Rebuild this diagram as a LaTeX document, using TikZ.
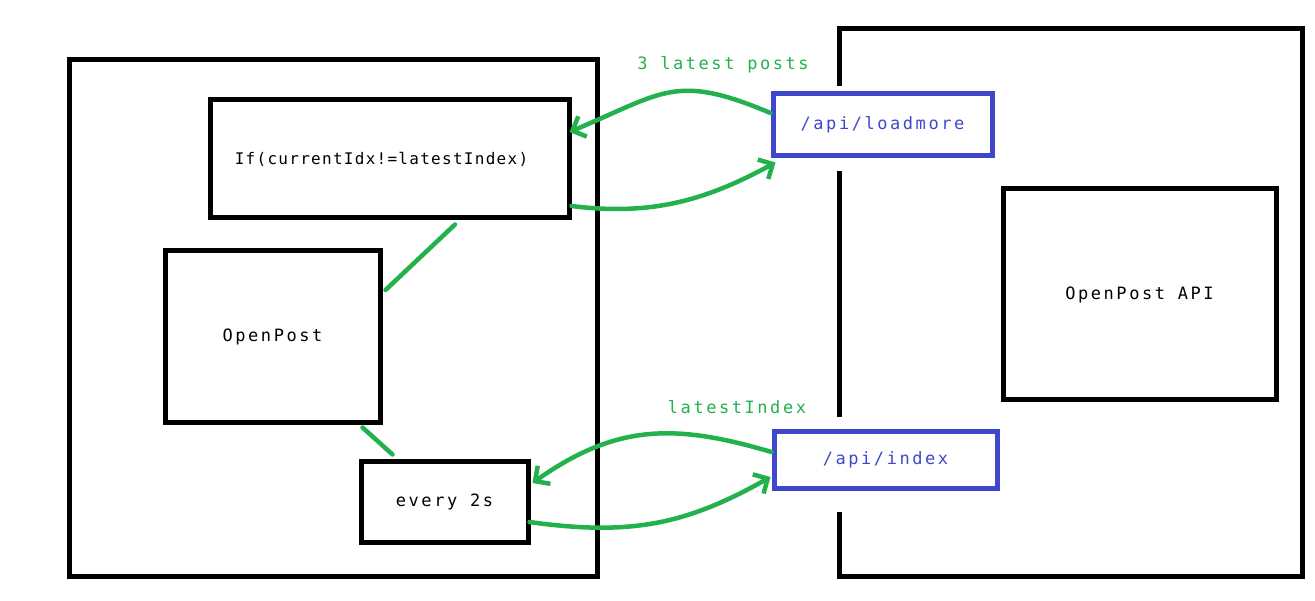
\documentclass[tikz,border=0pt]{standalone}
\usepackage{fontspec}
\usetikzlibrary{arrows.meta}
\newfontfamily\boxfont[LetterSpace=15]{DejaVu Sans Mono}
\newfontfamily\condfont[LetterSpace=8]{DejaVu Sans Mono}
\definecolor{paintgreen}{RGB}{34,177,76}
\definecolor{paintblue}{RGB}{63,72,204}

\begin{document}
\begin{tikzpicture}[x=1pt, y=-1pt, line width=5pt,
  box/.style={draw, inner sep=0pt, font=\boxfont\fontsize{17pt}{20pt}\selectfont},
  api/.style={box, draw=paintblue, text=paintblue},
  flow/.style={draw=paintgreen, line width=4.5pt, line cap=round, -{Straight Barb[length=11pt,width=22pt]}},
  link/.style={draw=paintgreen, line width=4.5pt, line cap=round},
  tag/.style={text=paintgreen, font=\boxfont\fontsize{17pt}{20pt}\selectfont}]
\useasboundingbox (0,0) rectangle (1315,601);

% client side
\node [box, minimum width=528pt, minimum height=516pt] (client) at (333,318) {};
\node [box, minimum width=359pt, minimum height=118pt, font=\condfont\fontsize{16pt}{20pt}\selectfont] (ifbox) at (389.5,159) {If(currentIdx!=latestIndex)\hspace*{16pt}};
\node [box, minimum width=215pt, minimum height=172pt] (op) at (272.5,337) {OpenPost};
\node [box, minimum width=167pt, minimum height=80pt] (ev) at (444.5,502) {every 2s};

% server side
\draw (839,86) -- (839,29) -- (1302,29) -- (1302,576) -- (839,576) -- (839,512);
\draw (839,171) -- (839,417);
\node [api, minimum width=219pt, minimum height=62pt] (lm) at (882.5,125) {/api/loadmore};
\node [api, minimum width=223pt, minimum height=56pt] (ix) at (885.5,460) {/api/index};
\node [box, minimum width=273pt, minimum height=211pt] (srv) at (1139.5,294.5) {OpenPost API};

% labels
\node [tag] (posts) at (723,65) {3 latest posts};
\node [tag] (latest) at (737,407) {latestIndex};

% requests and answers
\draw [flow] ([yshift=12pt]lm.west) .. controls +(-95,-40) and +(95,-40) .. ([xshift=-2pt,yshift=27pt]ifbox.east);
\draw [flow] ([yshift=-47pt]ifbox.east) .. controls +(80,10) and +(-70,38) .. ([xshift=5pt,yshift=-4pt]lm.south west);
\draw [flow] ([yshift=8pt]ix.west) .. controls +(-95,-28) and +(85,-60) .. ([xshift=2pt,yshift=19pt]ev.east);
\draw [flow] ([xshift=-1pt,yshift=-20pt]ev.east) .. controls +(100,14) and +(-85,48) .. ([xshift=-1pt,yshift=-17pt]ix.west);
\draw [link] ([xshift=65.5pt,yshift=-4pt]ifbox.south) -- ([xshift=3pt,yshift=47pt]op.east);
\draw [link] ([xshift=-20pt,yshift=-2pt]op.south east) -- ([xshift=34pt,yshift=5pt]ev.north west);
\end{tikzpicture}
\end{document}
